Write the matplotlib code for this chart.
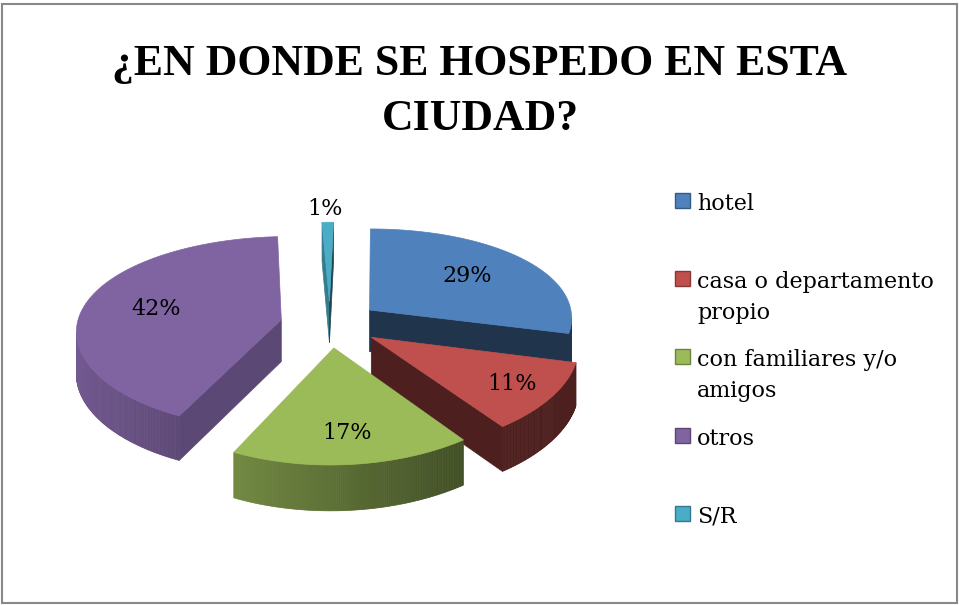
import numpy as np
import matplotlib.pyplot as plt
from matplotlib.patches import Polygon, Rectangle
from matplotlib import colors as mcolors

# Chart data
labels = ['hotel', 'casa o departamento\npropio', 'con familiares y/o\namigos', 'otros', 'S/R']
values = [29, 11, 17, 42, 1]
colors = ['#4F81BD', '#C0504D', '#9BBB59', '#8064A2', '#4BACC6']
title = '¿EN DONDE SE HOSPEDO EN ESTA\nCIUDAD?'

# where each % label sits along its slice (fraction of radius)
label_r = [0.63, 0.79, 0.76, 0.64, 1.0]

W, H = 959, 605
fig = plt.figure(figsize=(W / 100, H / 100), dpi=100)
ax = fig.add_axes([0, 0, 1, 1])
ax.set_xlim(0, W)
ax.set_ylim(H, 0)
ax.axis('off')

# Geometry of the fake 3D pie (pixel units)
cx, cy = 330, 324
rx, ry = 204, 95
px, py = 0.09, 0.13     # perspective shrink with distance
skew = 4                # slight sideways lean of the view
depth = 42
explode = 0.245


def proj(X, Y, drop=0.0):
    sx = 1.0 / (1.0 + px * Y)
    sy = 1.0 / (1.0 + py * Y)
    return cx + X * rx * sx + skew * Y, cy - Y * ry * sy + drop * np.sqrt(sy)


def shade(c, f):
    r, g, b = mcolors.to_rgb(c)
    return (r * f, g * f, b * f)


def area(pts):
    x, y = pts[:, 0], pts[:, 1]
    return 0.5 * np.sum(x * np.roll(y, -1) - np.roll(x, -1) * y)


def face(pts, color, z):
    pts = np.array(pts)
    if area(pts) <= 0:
        return
    ax.add_patch(Polygon(pts, closed=True, facecolor=color, edgecolor=color,
                         linewidth=0.5, zorder=z))


total = sum(values)
bounds = np.cumsum([0] + values) / total * 360.0

slices = []
for i, v in enumerate(values):
    t1, t2 = bounds[i], bounds[i + 1]
    mid = np.radians((t1 + t2) / 2)
    ox, oy = explode * np.sin(mid), explode * np.cos(mid)
    slices.append((i, t1, t2, ox, oy))

# paint far slices first
slices.sort(key=lambda s: -s[4])

z = 1
for i, t1, t2, ox, oy in slices:
    col = colors[i]
    ts = np.radians(np.linspace(t1, t2, max(4, int((t2 - t1) * 2))))
    rim = [(ox + np.sin(t), oy + np.cos(t)) for t in ts]
    top = lambda p: proj(p[0], p[1])
    bot = lambda p: proj(p[0], p[1], depth)
    apex = (ox, oy)

    # outer wall, in thin strips
    for a, b, t in zip(rim[:-1], rim[1:], ts[:-1]):
        f = np.clip(0.6 - 0.3 * np.sin(t), 0.4, 0.9)
        face([top(a), bot(a), bot(b), top(b)], shade(col, f), z)
    # cut faces
    face([top(apex), bot(apex), bot(rim[0]), top(rim[0])], shade(col, 0.72), z)
    face([top(apex), top(rim[-1]), bot(rim[-1]), bot(apex)], shade(col, 0.40), z)
    # top face
    face([top(apex)] + [top(p) for p in rim], col, z + 1)
    z += 2

    # value label
    mid = np.radians((t1 + t2) / 2)
    r = label_r[i]
    lx, ly = proj(ox + r * np.sin(mid), oy + r * np.cos(mid))
    if values[i] >= 5:
        ax.text(lx, ly, f'{values[i]}%', ha='center', va='center',
                fontsize=16, family='DejaVu Serif', zorder=50)
    else:
        ax.text(lx - 3, ly - 2, f'{values[i]}%', ha='center', va='bottom',
                fontsize=16, family='DejaVu Serif', zorder=50)

# Title, one text per line
for k, line in enumerate(title.split('\n')):
    ax.text(480, 75 + 55 * k, line, ha='center', va='baseline', fontsize=31.5,
            family='Liberation Serif', fontweight='bold')

# Legend drawn by hand to get Excel's even slots
for i, lab in enumerate(labels):
    yb = 210 + 78.2 * i
    ax.add_patch(Rectangle((675, yb - 17), 15, 15, facecolor=colors[i],
                           edgecolor=shade(colors[i], 0.7), linewidth=1))
    for k, line in enumerate(lab.split('\n')):
        ax.text(697, yb + 31 * k, line, ha='left', va='baseline', fontsize=16,
                family='DejaVu Serif')

# Chart border
fig.patches.append(Rectangle((1.5 / W, 2.5 / H), 955 / W, 599 / H,
                             transform=fig.transFigure, fill=False,
                             edgecolor='#888888', linewidth=1.5))

fig.savefig('out.png', dpi=100)
